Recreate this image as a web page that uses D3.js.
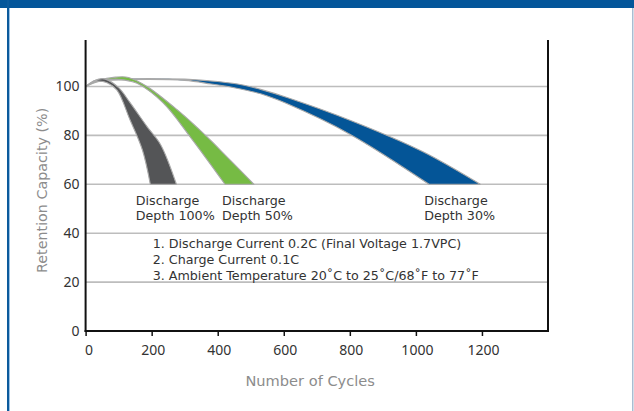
<!DOCTYPE html>
<html>
<head>
<meta charset="utf-8">
<script src="https://cdn.jsdelivr.net/npm/d3@7"></script>
<style>
  html, body { margin: 0; padding: 0; background: #fff; }
  svg { display: block; }
  text { font-family: "DejaVu Sans", sans-serif; }
</style>
</head>
<body>
<svg id="chart" width="634" height="411"></svg>
<script>
// ---------- data ----------
const xTicks = [0, 200, 400, 600, 800, 1000, 1200];
const yTicks = [0, 20, 40, 60, 80, 100];
const gridValues = [20, 40, 60, 80, 100];

// Discharge depth 30% (blue band): upper and lower edges [cycles, capacity %]
const blueUpper = [[0,100],[30,102.5],[80,103],[300,103],[400,102],[480,100.5],[530,98.8],[610,95.5],[810,85.7],[1020,73.4],[1195,60]];
const blueLower = [[0,100],[30,102],[80,102.6],[300,102.5],[380,101],[450,99.5],[530,97],[600,93.5],[800,80.5],[1040,60]];
// Discharge depth 50% (green band)
const greenUpper = [[0,100],[40,102.5],[90,103.8],[130,103.7],[186,100],[277,90.5],[367,79.5],[437,70],[510,60]];
const greenLower = [[0,100],[40,102],[90,103],[130,102.3],[156,101.3],[234,93.4],[316,79.5],[422,60]];
// Discharge depth 100% (grey band)
const greyUpper = [[0,100],[40,103],[60,103],[100,99.5],[134,93.5],[186,83.6],[228,76],[275,60]];
const greyLower = [[0,100],[35,102.2],[65,101.5],[95,98.5],[134,86.5],[172,74],[196,60]];

const bandLabels = [
  {x: 152, lines: ["Discharge", "Depth 100%"]},
  {x: 413, lines: ["Discharge", "Depth 50%"]},
  {x: 1025, lines: ["Discharge", "Depth 30%"]}
];
const notes = [
  "1. Discharge Current 0.2C (Final Voltage 1.7VPC)",
  "2. Charge Current 0.1C",
  "3. Ambient Temperature 20˚C to 25˚C/68˚F to 77˚F"
];
const xTitle = "Number of Cycles";
const yTitle = "Retention Capacity (%)";

// ---------- layout ----------
const W = 634, H = 411;
const svg = d3.select("#chart");

// frame
svg.append("rect").attr("x", 0).attr("y", 0).attr("width", W).attr("height", 8).attr("fill", "#04569a");
svg.append("rect").attr("x", 7).attr("y", 0).attr("width", 2).attr("height", H).attr("fill", "#0b5a9c");
svg.append("rect").attr("x", 9).attr("y", 8).attr("width", 1).attr("height", H).attr("fill", "#9cc3e6");
svg.append("rect").attr("x", 632).attr("y", 8).attr("width", 1.5).attr("height", H).attr("fill", "#a9bdd2");

const x = d3.scaleLinear().domain([0, 1400]).range([85.6, 548]);
const y = d3.scaleLinear().domain([0, 119]).range([331, 40]);

// grid lines
svg.append("g").selectAll("line").data(gridValues).join("line")
  .attr("x1", x(0)).attr("x2", x(1400))
  .attr("y1", d => y(d)).attr("y2", d => y(d))
  .attr("stroke", "#bdbdbd").attr("stroke-width", 1.6);

// bands
const line = d3.line().x(d => x(d[0])).y(d => y(d[1])).curve(d3.curveCatmullRom.alpha(0.5));
function bandPath(upper, lower) {
  const a = line(upper);
  const b = line(lower.slice().reverse());
  return a + "L" + b.slice(1) + "Z";
}
const bands = [
  {u: blueUpper, l: blueLower, fill: "#045597"},
  {u: greenUpper, l: greenLower, fill: "#76bb44"},
  {u: greyUpper, l: greyLower, fill: "#545557"}
];
svg.append("g").selectAll("path").data(bands).join("path")
  .attr("d", d => bandPath(d.u, d.l))
  .attr("fill", d => d.fill)
  .attr("stroke", "#a9a9a9").attr("stroke-width", 1.1).attr("stroke-linejoin", "round");

// axes frame lines
const axisG = svg.append("g");
axisG.append("line").attr("x1", x(0)).attr("x2", x(0)).attr("y1", y(119)).attr("y2", y(0) + 1)
  .attr("stroke", "#111").attr("stroke-width", 2);
axisG.append("line").attr("x1", x(1400)).attr("x2", x(1400)).attr("y1", y(119)).attr("y2", y(0) + 1)
  .attr("stroke", "#111").attr("stroke-width", 2);
axisG.append("line").attr("x1", x(0) - 1).attr("x2", x(1400) + 1).attr("y1", y(0)).attr("y2", y(0))
  .attr("stroke", "#111").attr("stroke-width", 2);

const tickFont = "'Noto Sans', 'DejaVu Sans', sans-serif";
// x ticks
const xAxis = d3.axisBottom(x).tickValues(xTicks).tickSize(5).tickPadding(9).tickFormat(d3.format("d"));
const gx = svg.append("g").attr("transform", `translate(0,${y(0)})`).call(xAxis);
gx.select(".domain").remove();
gx.selectAll(".tick line").attr("stroke", "#111").attr("stroke-width", 1.5);
gx.selectAll(".tick text").attr("font-size", 14).attr("fill", "#333")
  .attr("dx", d => d === 0 ? 3 : 1)
  .style("font-family", tickFont);

// y tick labels
const yAxis = d3.axisLeft(y).tickValues(yTicks).tickSize(0).tickPadding(6).tickFormat(d3.format("d"));
const gy = svg.append("g").attr("transform", `translate(${x(0)},0)`).call(yAxis);
gy.select(".domain").remove();
gy.selectAll(".tick text").attr("font-size", 14).attr("fill", "#333")
  .style("font-family", tickFont);

// band labels
const lab = svg.append("g").selectAll("text").data(bandLabels).join("text")
  .attr("x", d => x(d.x)).attr("y", y(51.5))
  .attr("font-size", 12.7).attr("fill", "#333");
lab.selectAll("tspan").data(d => d.lines.map(t => ({t, x: d.x}))).join("tspan")
  .attr("x", d => x(d.x)).attr("dy", (d, i) => i === 0 ? 0 : 15).text(d => d.t);

// notes
svg.append("g").selectAll("text").data(notes).join("text")
  .attr("x", x(203)).attr("y", (d, i) => y(34.1) + i * 16.4)
  .attr("font-size", 12.7).attr("fill", "#333").text(d => d);

// titles
svg.append("text").attr("x", x(680)).attr("y", 386).attr("text-anchor", "middle")
  .attr("font-size", 14.6).attr("fill", "#8c8c8c").text(xTitle);
svg.append("text").attr("transform", `translate(46.5,${y(57.5)}) rotate(-90)`).attr("text-anchor", "middle")
  .attr("font-size", 14.3).attr("fill", "#8c8c8c").text(yTitle);
</script>
</body>
</html>
